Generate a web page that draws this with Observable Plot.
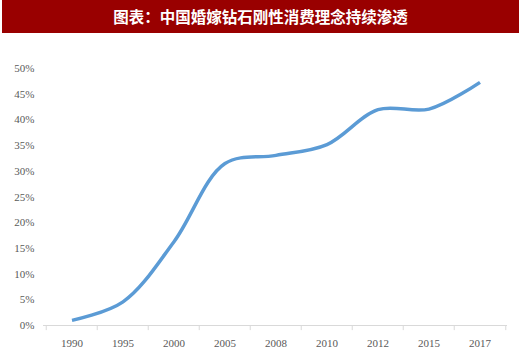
<!DOCTYPE html>
<html>
<head>
<meta charset="utf-8">
<script src="https://cdn.jsdelivr.net/npm/d3@7"></script>
<script src="https://cdn.jsdelivr.net/npm/@observablehq/plot@0.6"></script>
<style>
  html, body { margin: 0; padding: 0; background: #fff; }
  #wrap { width: 520px; height: 363px; position: relative; overflow: hidden; }
  #title {
    position: absolute; left: 2px; top: 0; width: 517px; height: 33px;
    background: #990000; color: #fff; text-align: center;
    font-family: "Noto Sans CJK SC", sans-serif; font-weight: bold;
    font-size: 15.5px; line-height: 33px; letter-spacing: 0px;
  }
  #chart { position: absolute; left: 0; top: 36px; }
  #chart svg, #chart svg text { font-family: "Liberation Serif", "Times New Roman", serif !important; }
</style>
</head>
<body>
<div id="wrap">
  <div id="title">图表：中国婚嫁钻石刚性消费理念持续渗透</div>
  <div id="chart"></div>
</div>
<script>
const years = ["1990", "1995", "2000", "2005", "2008", "2010", "2012", "2015", "2017"];
const shares = [0.010, 0.046, 0.163, 0.315, 0.331, 0.352, 0.420, 0.421, 0.473];
const yTicks = [0, 0.05, 0.10, 0.15, 0.20, 0.25, 0.30, 0.35, 0.40, 0.45, 0.50];

const data = years.map((y, i) => ({year: y, share: shares[i]}));

const W = 520, H = 327, mL = 43, mR = 13, mT = 32, mB = 38;
const bw = (W - mL - mR) / years.length;
const font = "'Liberation Serif', 'Times New Roman', serif";

const chart = Plot.plot({
  width: W, height: H,
  marginLeft: mL, marginRight: mR, marginTop: mT, marginBottom: mB,
  style: {fontFamily: font, fontSize: "11px", color: "#595959", background: "#fff"},
  x: {type: "band", domain: years, padding: 0, label: null},
  y: {domain: [0, 0.5], label: null},
  marks: [
    Plot.axisY({ticks: yTicks, tickFormat: d => Math.round(d * 100) + "%", tickSize: 0, tickPadding: 9, fill: "#595959", label: null}),
    Plot.axisX({tickSize: 0, tickPadding: 14, fill: "#595959", label: null}),
    Plot.ruleY([0], {stroke: "#d9d9d9", strokeWidth: 1}),
    Plot.ruleX(years, {x: d => d, y1: 0, y2: -0.01, dx: -bw / 2, stroke: "#d9d9d9"}),
    Plot.ruleX(years.slice(-1), {x: d => d, y1: 0, y2: -0.01, dx: bw / 2, stroke: "#d9d9d9"}),
    Plot.line(data, {x: "year", y: "share", stroke: "#5b9bd5", strokeWidth: 3.5, curve: "catmull-rom", strokeLinecap: "butt"})
  ]
});
document.getElementById("chart").append(chart);
</script>
</body>
</html>
